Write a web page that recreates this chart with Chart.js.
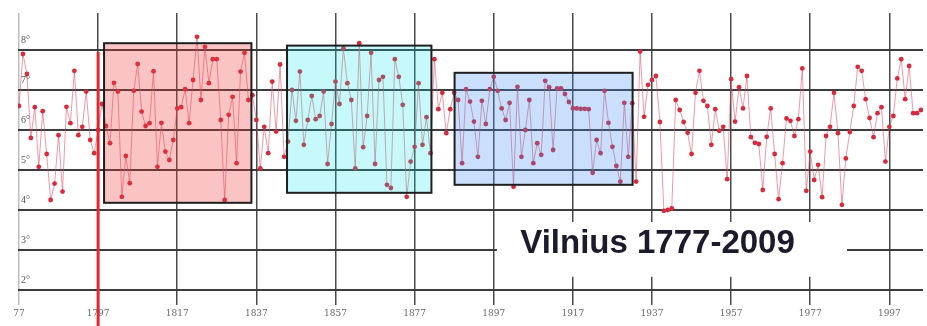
<!DOCTYPE html>
<html>
<head>
<meta charset="utf-8">
<script src="https://cdn.jsdelivr.net/npm/chart.js@4.4.1/dist/chart.umd.min.js"></script>
<style>
  html, body { margin: 0; padding: 0; background: #fff; }
  #wrap { width: 927px; height: 326px; }
</style>
</head>
<body>
<div id="wrap"><canvas id="vilnius" width="927" height="326"></canvas></div>
<script>
// annual mean temperature, Vilnius, one value per year from 1777
const firstYear = 1777;
const temps = [
  6.6, 7.9, 7.4,
  5.8, 6.57, 5.08, 6.47, 5.4, 4.25, 4.66, 5.87, 4.46, 6.58,
  6.17, 7.48, 5.87, 6.08, 6.96, 5.75, 5.42, 6.0, 6.65, 6.1,
  5.67, 7.18, 6.96, 4.33, 5.35, 4.67, 6.98, 7.65, 6.46, 6.1,
  6.17, 7.47, 5.08, 6.18, 5.46, 5.25, 5.75, 6.54, 6.57, 7.02,
  6.17, 7.25, 8.33, 6.75, 8.08, 7.17, 7.77, 7.77, 6.25, 4.25,
  6.38, 6.83, 5.17, 7.46, 7.93, 6.75, 6.87, 6.25, 5.04, 6.08,
  5.42, 7.21, 5.96, 7.64, 5.33, 5.71, 7.0, 6.23, 7.46, 5.63,
  6.25, 6.85, 6.27, 6.35, 6.96, 5.15, 6.15, 7.21, 6.65, 8.04,
  7.17, 6.75, 5.04, 8.17, 5.57, 6.35, 7.93, 5.15, 7.25, 7.33,
  4.63, 4.55, 7.77, 7.33, 6.63, 4.33, 5.21, 5.58, 7.17, 5.63,
  6.32, 5.42, 7.77, 6.52, 6.93, 5.92, 6.52, 6.93, 6.75, 5.17,
  7.02, 6.71, 6.21, 5.33, 6.73, 6.15, 7.02, 7.33, 6.98, 6.54,
  6.25, 6.68, 4.58, 7.08, 5.33, 6.0, 6.75, 5.17, 5.67, 5.38,
  7.23, 7.07, 5.5, 7.04, 7.04, 6.9, 6.7, 6.54, 6.54, 6.53,
  6.53, 6.52, 4.93, 5.75, 5.42, 6.98, 6.18, 5.58, 5.1, 4.71,
  6.68, 5.33, 6.67, 4.71, 7.96, 6.33, 7.13, 7.25, 7.35, 6.2,
  3.98, 4.0, 4.04, 6.75, 6.5, 6.2, 5.93, 5.4, 6.93, 7.48,
  6.73, 6.6, 5.63, 6.52, 5.98, 6.08, 4.77, 7.27, 6.21, 7.07,
  6.54, 7.35, 5.82, 5.68, 5.65, 4.5, 5.83, 6.54, 5.4, 4.27,
  5.17, 6.29, 6.23, 5.85, 6.27, 7.54, 4.48, 5.46, 4.75, 5.13,
  4.32, 5.85, 6.08, 6.93, 5.92, 4.13, 5.29, 5.95, 6.6, 7.58,
  7.48, 6.77, 6.3, 5.82, 6.42, 6.57, 5.21, 6.08, 6.35, 7.29,
  7.77, 6.77, 7.6, 6.42, 6.42, 6.5
];
const years = temps.map((_, i) => firstYear + i);

// axis ticks
const xTicks = [1777, 1797, 1817, 1837, 1857, 1877, 1897, 1917, 1937, 1957, 1977, 1997];
const yTicks = [2, 3, 4, 5, 6, 7, 8];

// highlighted periods (years) and their temperature span
const boxStart = [1798.5, 1844.75, 1887.1];
const boxEnd   = [1835.75, 1881.25, 1932.1];
const boxLow   = [4.18, 4.43, 4.63];
const boxHigh  = [8.17, 8.11, 7.43];
const boxFill  = ['rgba(240,60,60,0.30)', 'rgba(0,225,230,0.22)', 'rgba(60,140,240,0.28)'];

// red marker line and title
const markerYear = 1797;
const markerTop = 7.95;
const title = 'Vilnius 1777-2009';

const overlay = {
  id: 'overlay',
  afterDatasetsDraw(chart) {
    const ctx = chart.ctx;
    const xs = chart.scales.x, ys = chart.scales.y;
    ctx.save();
    // boxes over the series
    boxStart.forEach((s, i) => {
      const x1 = xs.getPixelForValue(s), x2 = xs.getPixelForValue(boxEnd[i]);
      const y1 = ys.getPixelForValue(boxHigh[i]), y2 = ys.getPixelForValue(boxLow[i]);
      ctx.fillStyle = boxFill[i];
      ctx.fillRect(x1, y1, x2 - x1, y2 - y1);
      ctx.strokeStyle = '#1e1e1e';
      ctx.lineWidth = 2;
      ctx.strokeRect(x1, y1, x2 - x1, y2 - y1);
    });
    // red vertical marker
    const mx = xs.getPixelForValue(markerYear);
    ctx.strokeStyle = '#e0282e';
    ctx.lineWidth = 3;
    ctx.beginPath();
    ctx.moveTo(mx, ys.getPixelForValue(markerTop));
    ctx.lineTo(mx, chart.height);
    ctx.stroke();
    // title on a white patch
    const tx = xs.getPixelForValue(1897.8), tx2 = xs.getPixelForValue(1986.3);
    const ty = ys.getPixelForValue(3.7), ty2 = ys.getPixelForValue(2.33);
    ctx.fillStyle = '#fff';
    ctx.fillRect(tx, ty, tx2 - tx, ty2 - ty);
    ctx.fillStyle = '#1b1b2c';
    ctx.font = 'bold 33px "Liberation Sans", Arial, sans-serif';
    ctx.textAlign = 'center';
    ctx.textBaseline = 'alphabetic';
    ctx.fillText(title, xs.getPixelForValue(1938.4), ys.getPixelForValue(2.93));
    ctx.restore();
  }
};

new Chart(document.getElementById('vilnius'), {
  type: 'line',
  data: {
    datasets: [{
      data: years.map((y, i) => ({ x: y, y: temps[i] })),
      borderColor: 'rgba(226,70,95,0.55)',
      borderWidth: 1,
      pointRadius: 2.4,
      pointBackgroundColor: '#d62b3c',
      pointBorderWidth: 0,
      tension: 0
    }]
  },
  options: {
    responsive: false,
    devicePixelRatio: 1,
    animation: false,
    layout: { padding: { left: 12, top: 13, right: 0, bottom: 0 } },
    plugins: { legend: { display: false }, tooltip: { enabled: false } },
    scales: {
      x: {
        type: 'linear',
        min: 1776.75,
        max: 2005.5,
        afterBuildTicks: s => { s.ticks = xTicks.map(v => ({ value: v })); },
        afterFit: s => { s.height = 25; },
        border: { display: false },
        grid: {
          color: c => c.index === 0 ? '#bdbdbd' : '#4a4a4a',
          lineWidth: 1.5,
          tickLength: 4
        },
        ticks: {
          autoSkip: false,
          maxRotation: 0,
          padding: 3,
          color: '#6a6a6a',
          font: { family: '"DejaVu Serif", "Liberation Serif", serif', size: 9 },
          callback: (v, i) => i === 0 ? '77' : String(v)
        }
      },
      y: {
        min: 1.725,
        max: 8.925,
        afterBuildTicks: s => { s.ticks = yTicks.map(v => ({ value: v })); },
        border: { display: false },
        grid: { color: '#3c3c3c', lineWidth: 2, drawTicks: false },
        ticks: {
          mirror: true,
          padding: 3,
          labelOffset: -10,
          color: '#555',
          font: { family: '"Liberation Serif", "DejaVu Serif", serif', size: 10 },
          callback: v => v + '°'
        }
      }
    }
  },
  plugins: [overlay]
});
</script>
</body>
</html>
